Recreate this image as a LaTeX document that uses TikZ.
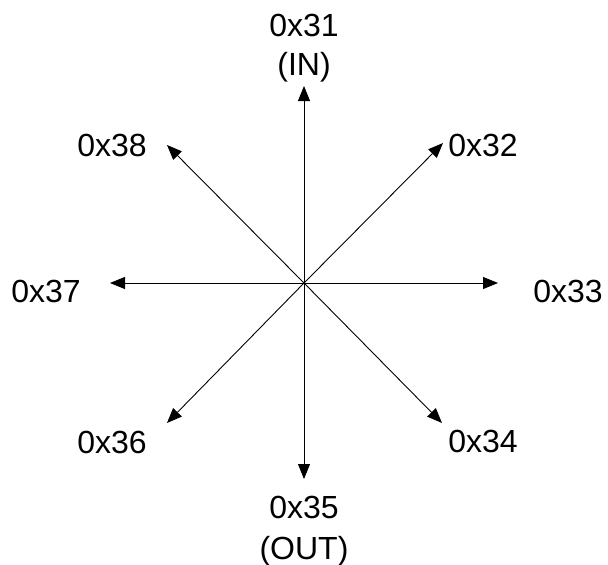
\documentclass[tikz,border=0pt]{standalone}
\usepackage{fontspec}
\setmainfont{Liberation Sans}
\usetikzlibrary{arrows.meta}
\begin{document}
\begin{tikzpicture}[x=1pt,y=-1pt,
  conn/.style={line width=0.9pt,-{Triangle[length=15pt,width=12pt]}},
  lbl/.style={inner sep=0pt,anchor=base,font=\fontsize{32}{38}\selectfont,align=center}]
\useasboundingbox (0,0) rectangle (608,565);
\coordinate (c) at (304,283);
\coordinate (tN) at (304,86);
\coordinate (tS) at (304,479);
\coordinate (tE) at (498,283);
\coordinate (tW) at (110,283);
\coordinate (tNE) at (443,143);
\coordinate (tSE) at (442,423);
\coordinate (tNW) at (167,145);
\coordinate (tSW) at (167,423);
\foreach \t in {tN,tS,tE,tW,tNE,tSE,tNW,tSW} \draw[conn] (c) -- (\t);
\node[lbl,font=\fontsize{32}{39}\selectfont] (n31) at (304,75) {0x31\\(IN)};
\node[lbl] (n32) at (483,156) {0x32};
\node[lbl] (n33) at (568,302) {0x33};
\node[lbl] (n34) at (483,452) {0x34};
\node[lbl,font=\fontsize{32}{41}\selectfont] (n35) at (304,559) {0x35\\(OUT)};
\node[lbl] (n36) at (112,453) {0x36};
\node[lbl] (n37) at (46,302) {0x37};
\node[lbl] (n38) at (112,156) {0x38};
\end{tikzpicture}
\end{document}
